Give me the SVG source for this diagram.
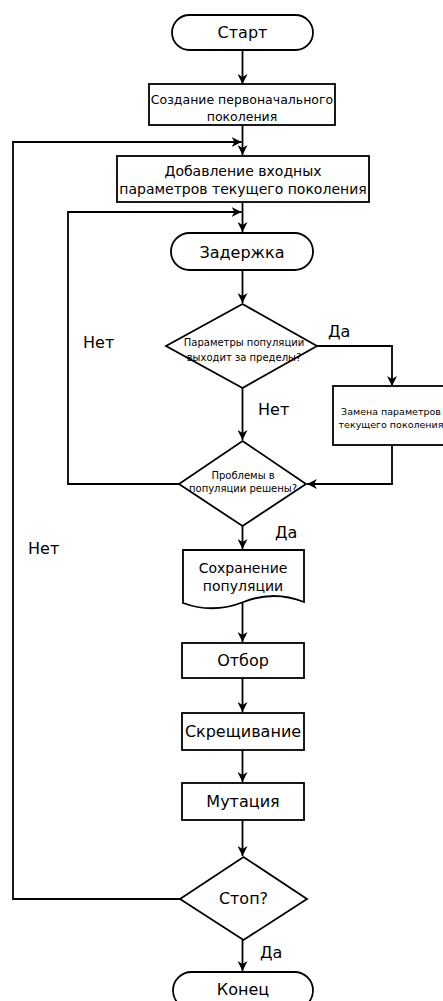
<svg xmlns="http://www.w3.org/2000/svg" width="443" height="1001" viewBox="0 0 443 1001">
<style>
.s{fill:#fff;stroke:#000;stroke-width:1.8}
.c{fill:none;stroke:#000;stroke-width:1.8}
text{font-family:"DejaVu Sans",Verdana,sans-serif;fill:#000;text-anchor:middle;dominant-baseline:central}
.f16{font-size:16px}.f14{font-size:14px}.f13{font-size:12.5px}.f10{font-size:10px}.f9{font-size:9.5px}
.l{font-size:16px;text-anchor:start}
</style>
<defs>
<marker id="a" viewBox="0 0 10 10" refX="10" refY="5" markerWidth="10" markerHeight="10" markerUnits="userSpaceOnUse" orient="auto">
<path d="M0,0 L10,5 L0,10 L3,5 Z" fill="#000"/>
</marker>
</defs>
<rect width="443" height="1001" fill="#fff"/>
<g id="connectors">
<path class="c" d="M242.5,50 V84" marker-end="url(#a)"/>
<path class="c" d="M242.5,125 V155" marker-end="url(#a)"/>
<path class="c" d="M242.5,202 V232" marker-end="url(#a)"/>
<path class="c" d="M242.5,270 V303" marker-end="url(#a)"/>
<path class="c" d="M242.5,388 V440" marker-end="url(#a)"/>
<path class="c" d="M317,346 H392 V386" marker-end="url(#a)"/>
<path class="c" d="M392,445 V484 H307" marker-end="url(#a)"/>
<path class="c" d="M179,484 H68 V212 H241.5" marker-end="url(#a)"/>
<path class="c" d="M242.5,526 V549" marker-end="url(#a)"/>
<path class="c" d="M242.5,603 V642" marker-end="url(#a)"/>
<path class="c" d="M242.5,678 V712" marker-end="url(#a)"/>
<path class="c" d="M242.5,750 V782" marker-end="url(#a)"/>
<path class="c" d="M242.5,820 V856" marker-end="url(#a)"/>
<path class="c" d="M180,899 H13 V142 H241.5" marker-end="url(#a)"/>
<path class="c" d="M242.5,940 V971" marker-end="url(#a)"/>
<text class="l" x="83" y="342">Нет</text>
<text class="l" x="258" y="409">Нет</text>
<text class="l" x="28" y="548">Нет</text>
<text class="l" x="328" y="331">Да</text>
<text class="l" x="275" y="532">Да</text>
<text class="l" x="260" y="952">Да</text>
</g>
<g id="start">
<rect class="s" x="172" y="15" width="141" height="35" rx="17.5"/>
<text class="f16" x="242.5" y="32.5">Старт</text>
</g>
<g id="create">
<rect class="s" x="149" y="84" width="186" height="41"/>
<text class="f13" x="242" y="99">Создание первоначального</text>
<text class="f13" x="242" y="116">поколения</text>
</g>
<g id="add">
<rect class="s" x="117" y="156" width="252" height="46"/>
<text class="f14" x="243" y="171">Добавление входных</text>
<text class="f14" x="243" y="189">параметров текущего поколения</text>
</g>
<g id="delay">
<rect class="s" x="171" y="233" width="142" height="37" rx="18.5"/>
<text class="f16" x="242" y="252">Задержка</text>
</g>
<g id="check1">
<polygon class="s" points="242.5,304 317,346 242.5,388 166,346"/>
<text class="f10" x="244" y="342">Параметры популяции</text>
<text class="f10" x="244" y="357">выходит за пределы?</text>
</g>
<g id="replace">
<rect class="s" x="333" y="386" width="112" height="59"/>
<text class="f9" x="391" y="411">Замена параметров</text>
<text class="f9" x="391" y="424">текущего поколения</text>
</g>
<g id="check2">
<polygon class="s" points="242.5,441 306,484 242.5,526 179,484"/>
<text class="f10" x="243" y="475">Проблемы в</text>
<text class="f10" x="243" y="488">популяции решены?</text>
</g>
<g id="save">
<path class="s" d="M183,550 H304 V602 Q273.5,590 243.5,602 Q213,614 183,603 Z"/>
<text class="f14" x="243" y="568">Сохранение</text>
<text class="f14" x="243" y="586">популяции</text>
</g>
<g id="select">
<rect class="s" x="182" y="643" width="122" height="35"/>
<text class="f16" x="243" y="660">Отбор</text>
</g>
<g id="cross">
<rect class="s" x="182" y="713" width="122" height="37"/>
<text class="f16" x="243" y="731.5">Скрещивание</text>
</g>
<g id="mutate">
<rect class="s" x="182" y="783" width="122" height="37"/>
<text class="f16" x="243" y="801.5">Мутация</text>
</g>
<g id="stop">
<polygon class="s" points="243.5,857 307,899 243.5,940 180,899"/>
<text class="f16" x="243.5" y="898">Стоп?</text>
</g>
<g id="end">
<rect class="s" x="173" y="972" width="140" height="37" rx="18.5"/>
<text class="f16" x="243" y="989">Конец</text>
</g>
</svg>
